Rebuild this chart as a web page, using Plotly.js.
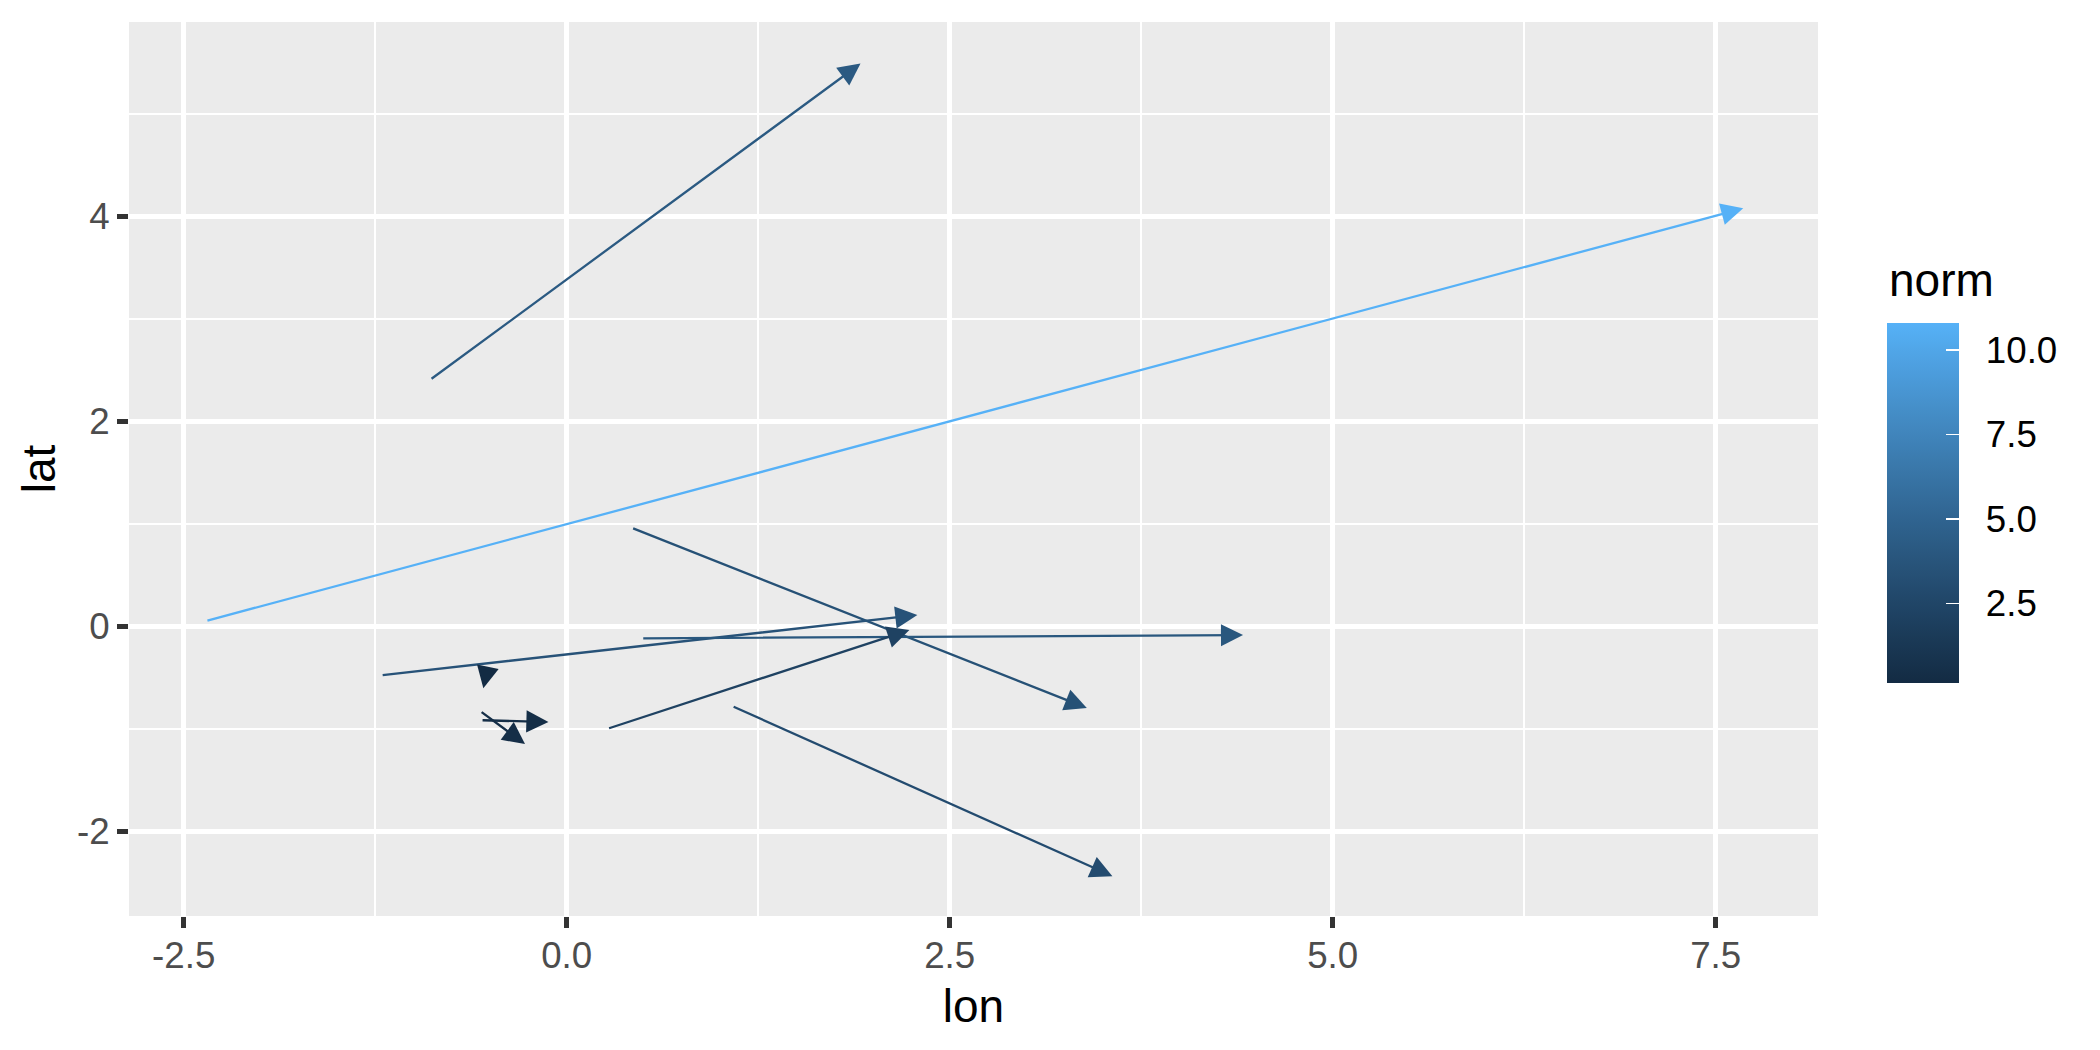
<!DOCTYPE html>
<html>
<head>
<meta charset="utf-8">
<script src="https://cdn.plot.ly/plotly-3.0.1.min.js"></script>
<style>html,body{margin:0;padding:0;background:#fff;}#chart{width:2100px;height:1050px;}</style>
</head>
<body>
<div id="chart"></div>
<script>
// ---- data ----
var lon = [-0.892, -2.355, 0.424, -1.211, 0.490, 0.267, 1.080, -0.522, -0.565, -0.559];
var lat = [2.405, 0.052, 0.961, -0.477, -0.117, -0.999, -0.778, -0.447, -0.826, -0.916];
var u   = [2.810, 10.035, 2.971, 3.500, 3.925, 1.970, 2.482, -0.022, 0.293, 0.440];
var v   = [3.085, 4.026, -1.758, 0.587, 0.032, 0.963, -1.659, -0.158, -0.322, -0.017];
var xTickVals = [-2.5, 0, 2.5, 5, 7.5];
var xTickText = ['-2.5', '0.0', '2.5', '5.0', '7.5'];
var yTickVals = [-2, 0, 2, 4];
var yTickText = ['-2', '0', '2', '4'];
var cbTickVals = [2.5, 5, 7.5, 10];
var cbTickText = ['2.5', '5.0', '7.5', '10.0'];

var norm = u.map(function(d, i){ return Math.sqrt(d*d + v[i]*v[i]); });

// ---- ggplot-like Lab gradient #132B43 -> #56B1F7 ----
function hexToRgb(h){return [parseInt(h.slice(1,3),16),parseInt(h.slice(3,5),16),parseInt(h.slice(5,7),16)];}
function srgbToLin(c){c/=255;return c<=0.04045?c/12.92:Math.pow((c+0.055)/1.055,2.4);}
function linToSrgb(c){var q=c<=0.0031308?12.92*c:1.055*Math.pow(c,1/2.4)-0.055;return Math.round(Math.max(0,Math.min(1,q))*255);}
var WX=0.95047,WY=1,WZ=1.08883;
function ff(t){return t>0.008856?Math.cbrt(t):(7.787*t+16/116);}
function finv(t){return t*t*t>0.008856?t*t*t:(t-16/116)/7.787;}
function toLab(hex){var c=hexToRgb(hex).map(srgbToLin);
  var X=0.4124*c[0]+0.3576*c[1]+0.1805*c[2],Y=0.2126*c[0]+0.7152*c[1]+0.0722*c[2],Z=0.0193*c[0]+0.1192*c[1]+0.9505*c[2];
  var fx=ff(X/WX),fy=ff(Y/WY),fz=ff(Z/WZ);return [116*fy-16,500*(fx-fy),200*(fy-fz)];}
function fromLab(L){var fy=(L[0]+16)/116,fx=fy+L[1]/500,fz=fy-L[2]/200;
  var X=WX*finv(fx),Y=WY*finv(fy),Z=WZ*finv(fz);
  var r=3.2406*X-1.5372*Y-0.4986*Z,g=-0.9689*X+1.8758*Y+0.0415*Z,b=0.0557*X-0.2040*Y+1.0570*Z;
  return 'rgb('+linToSrgb(r)+','+linToSrgb(g)+','+linToSrgb(b)+')';}
var labLo = toLab('#132B43'), labHi = toLab('#56B1F7');
function grad(t){return fromLab([0,1,2].map(function(k){return labLo[k]+(labHi[k]-labLo[k])*t;}));}
var nMin = Math.min.apply(null, norm), nMax = Math.max.apply(null, norm);
var colorscale = [];
for (var s = 0; s <= 20; s++) { colorscale.push([s/20, grad(s/20)]); }

var FONT = 'Liberation Sans, Arial, sans-serif';

var annotations = lon.map(function(x0, i){
  return {
    x: x0 + u[i], y: lat[i] + v[i], ax: x0, ay: lat[i],
    xref: 'x', yref: 'y', axref: 'x', ayref: 'y',
    text: '', showarrow: true, arrowhead: 2, arrowsize: 1.92, arrowwidth: 2.3,
    arrowcolor: grad((norm[i]-nMin)/(nMax-nMin)), standoff: 0, startstandoff: 0,
    font: {size: 1}
  };
});
// legend title
annotations.push({
  xref: 'paper', yref: 'paper', x: (1887-129)/1689, y: (916-280)/894,
  xanchor: 'left', yanchor: 'middle', showarrow: false, text: 'norm',
  font: {family: FONT, size: 46, color: '#000000'}
});

var cbBase = {
  xref: 'paper', yref: 'paper',
  x: (1886.7-129)/1689, xanchor: 'left', y: (916-682.7)/894, yanchor: 'bottom',
  thicknessmode: 'pixels', thickness: 72, lenmode: 'pixels', len: 360,
  xpad: 0, ypad: 0, outlinewidth: 0, borderwidth: 0,
  tickmode: 'array', tickvals: cbTickVals, ticktext: cbTickText,
  tickfont: {family: FONT, size: 36.7, color: '#000000'}
};
function cb(extra){ var o = {}; for (var k in cbBase) o[k] = cbBase[k]; for (var k2 in extra) o[k2] = extra[k2]; return o; }

// colour-carrying traces (invisible markers) that produce the colour bar
var traceLabels = {
  type: 'scatter', mode: 'markers', x: lon, y: lat, hoverinfo: 'skip', showlegend: false,
  marker: {size: 1, opacity: 0, color: norm, colorscale: colorscale, cmin: nMin, cmax: nMax, showscale: true,
    colorbar: cb({ticks: 'outside', ticklen: 20, tickwidth: 1, tickcolor: 'rgba(0,0,0,0)', showticklabels: true})}
};
var traceTicks = {
  type: 'scatter', mode: 'markers', x: lon, y: lat, hoverinfo: 'skip', showlegend: false,
  marker: {size: 1, opacity: 0, color: norm, colorscale: colorscale, cmin: nMin, cmax: nMax, showscale: true,
    colorbar: cb({ticks: 'inside', ticklen: 13, tickwidth: 1.5, tickcolor: '#ffffff', showticklabels: false})}
};

var layout = {
  width: 2100, height: 1050,
  margin: {l: 129, r: 282, t: 22, b: 134},
  paper_bgcolor: '#ffffff', plot_bgcolor: '#EBEBEB',
  font: {family: FONT},
  xaxis: {
    range: [-2.857, 8.168], tickmode: 'array', tickvals: xTickVals, ticktext: xTickText,
    showgrid: true, gridcolor: '#ffffff', gridwidth: 4.4, zeroline: false, showline: false,
    ticks: 'outside', ticklen: 11, tickwidth: 4.4, tickcolor: '#333333', ticklabelstandoff: -4,
    tickfont: {family: FONT, size: 36.7, color: '#4D4D4D'},
    minor: {tickvals: [-1.25, 1.25, 3.75, 6.25], showgrid: true, gridcolor: '#ffffff', gridwidth: 2.2, ticks: ''},
    title: {text: 'lon', font: {family: FONT, size: 46, color: '#000000'}, standoff: 14}
  },
  yaxis: {
    range: [-2.826, 5.896], tickmode: 'array', tickvals: yTickVals, ticktext: yTickText,
    showgrid: true, gridcolor: '#ffffff', gridwidth: 4.4, zeroline: false, showline: false,
    ticks: 'outside', ticklen: 11, tickwidth: 4.4, tickcolor: '#333333', ticklabelstandoff: 0,
    tickfont: {family: FONT, size: 36.7, color: '#4D4D4D'},
    minor: {tickvals: [-1, 1, 3, 5], showgrid: true, gridcolor: '#ffffff', gridwidth: 2.2, ticks: ''},
    title: {text: 'lat', font: {family: FONT, size: 46, color: '#000000'}, standoff: 6}
  },
  annotations: annotations
};

Plotly.newPlot('chart', [traceLabels, traceTicks], layout, {displayModeBar: false, staticPlot: true});
</script>
</body>
</html>
